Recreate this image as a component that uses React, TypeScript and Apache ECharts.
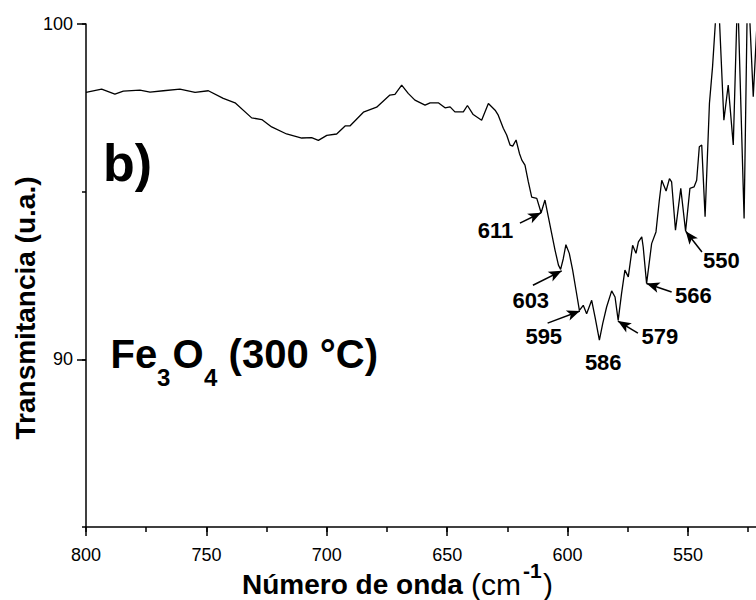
import React, { useEffect, useRef } from "react";
import * as echarts from "echarts";

// FTIR spectrum, Fe3O4 (300 °C)
const wavenumber = [
  800.0, 793.5, 788.0, 784.5, 777.6, 773.4, 767.9, 761.0, 754.7, 749.2, 743.0, 738.1, 731.2, 727.0,
  722.9, 716.7, 710.4, 706.3, 703.5, 700.0, 695.9, 692.4, 690.4, 684.8, 679.3, 673.8, 671.7, 668.9,
  666.2, 663.4, 659.2, 657.1, 653.7, 650.9, 648.8, 646.8, 643.3, 641.6, 639.2, 635.7, 632.9, 630.1,
  628.8, 626.7, 625.3, 623.9, 622.8, 621.4, 620.0, 619.0, 617.7, 616.3, 614.9, 612.8, 611.0, 609.4,
  608.0, 606.6, 605.2, 603.8, 602.9, 601.8, 600.7, 599.3, 597.9, 596.5, 595.1, 593.5, 592.1, 590.0,
  588.6, 586.8, 585.4, 583.8, 581.7, 580.3, 579.0, 577.6, 576.2, 574.8, 573.0, 571.6, 570.6, 569.2,
  568.6, 567.2, 565.1, 563.3, 561.9, 560.9, 559.1, 557.7, 556.8, 555.2, 553.0, 551.0, 549.2, 547.5,
  546.4, 545.3, 544.3, 542.9, 541.1, 539.8, 537.6, 535.1, 533.3, 531.2, 529.4, 526.7, 525.2, 522.9,
  521.0,
];
const transmittance = [
  97.96, 98.06, 97.91, 98.0, 98.03, 97.97, 98.01, 98.06, 97.96, 98.01, 97.78, 97.65, 97.2, 97.15,
  96.93, 96.72, 96.6, 96.61, 96.53, 96.68, 96.72, 96.96, 96.96, 97.37, 97.52, 97.88, 97.9, 98.18,
  97.93, 97.73, 97.58, 97.65, 97.65, 97.5, 97.53, 97.38, 97.38, 97.57, 97.3, 97.13, 97.63, 97.43,
  97.28, 96.89, 96.69, 96.39, 96.36, 96.54, 96.14, 95.94, 95.79, 95.29, 94.84, 94.8, 94.37, 94.75,
  94.25, 93.75, 93.25, 92.81, 92.68, 93.0, 93.42, 93.16, 92.66, 92.06, 91.46, 91.61, 91.36, 91.76,
  91.26, 90.57, 91.07, 91.56, 92.04, 91.86, 91.16, 91.96, 92.66, 92.46, 93.4, 93.16, 93.5, 93.65,
  93.35, 92.26, 93.45, 93.8, 94.75, 95.34, 95.02, 95.39, 95.29, 93.85, 95.1, 93.82, 95.1, 95.14,
  95.34, 96.34, 96.39, 94.25, 97.63, 98.73, 101.2, 97.13, 98.18, 96.39, 101.0, 94.2, 101.5, 97.83,
  100.5,
];

// tick labels shown
const xLabelValues = [800, 750, 700, 650, 600, 550];
const yLabelValues = [90, 100];

// peak annotations (data coordinates)
const peakLabels = ["611", "603", "595", "586", "579", "566", "550"];
const labelX = [629.9, 615.3, 609.9, 585.2, 561.7, 547.8, 536.1];
const labelY = [93.85, 91.76, 90.67, 89.92, 90.67, 91.91, 92.96];
const arrowFromX = [619.8, 614.4, 608.3, null, 570.8, 556.8, 544.2];
const arrowFromY = [94.06, 92.21, 91.08, null, 90.78, 92.01, 93.2];
const arrowToX = [611.0, 602.45, 594.9, null, 579.1, 567.2, 550.96];
const arrowToY = [94.37, 92.64, 91.44, null, 91.14, 92.26, 93.82];

const FONT = "'Liberation Sans', Arial, Helvetica, sans-serif";

export default function App() {
  const ref = useRef<HTMLDivElement>(null);
  useEffect(() => {
    document.body.style.margin = "0";
    const chart = echarts.init(ref.current!, null, { renderer: "svg" });
    const data = wavenumber.map((w, i) => [w, transmittance[i]]);
    const arrows: any[] = [];
    arrowFromX.forEach((fx, i) => {
      if (fx == null) return;
      arrows.push([
        { coord: [fx, arrowFromY[i]] },
        { coord: [arrowToX[i], arrowToY[i]] },
      ]);
    });
    const labelData = labelX.map((x, i) => [x, labelY[i]]);
    const axisColor = "#000";
    const option: any = {
      animation: false,
      grid: {
        left: 86,
        top: 24,
        bottom: 73,
        right: -52.4,
        containLabel: false,
        outerBoundsMode: "none",
      },
      xAxis: [
        {
          type: "value",
          min: 500,
          max: 800,
          interval: 50,
          inverse: true,
          position: "bottom",
          axisLine: { show: true, onZero: false, lineStyle: { color: axisColor, width: 1.5 } },
          axisTick: { show: true, length: 9, lineStyle: { color: axisColor, width: 1.5 } },
          axisLabel: {
            margin: 19,
            color: "#000",
            fontSize: 18,
            fontFamily: FONT,
            formatter: (v: number) => (xLabelValues.indexOf(v) >= 0 ? String(v) : ""),
          },
          splitLine: { show: false },
        },
        {
          type: "value",
          min: 500,
          max: 800,
          interval: 25,
          inverse: true,
          position: "bottom",
          axisLine: { show: false, onZero: false },
          axisTick: { show: true, length: 5, lineStyle: { color: axisColor, width: 1.5 } },
          axisLabel: { show: false },
          splitLine: { show: false },
        },
      ],
      yAxis: [
        {
          type: "value",
          min: 85,
          max: 100,
          interval: 5,
          position: "left",
          axisLine: { show: true, onZero: false, lineStyle: { color: axisColor, width: 1.5 } },
          axisTick: { show: true, length: 4, lineStyle: { color: axisColor, width: 1.5 } },
          axisLabel: {
            margin: 13,
            color: "#000",
            fontSize: 18,
            fontFamily: FONT,
            formatter: (v: number) => (yLabelValues.indexOf(v) >= 0 ? String(v) : ""),
          },
          splitLine: { show: false },
        },
        {
          type: "value",
          min: 85,
          max: 100,
          interval: 5,
          position: "left",
          axisLine: { show: false, onZero: false },
          axisTick: {
            show: true,
            length: 9,
            customValues: yLabelValues,
            lineStyle: { color: axisColor, width: 1.5 },
          },
          axisLabel: { show: false },
          splitLine: { show: false },
        },
      ],
      series: [
        {
          type: "line",
          xAxisIndex: 0,
          yAxisIndex: 0,
          data,
          symbol: "none",
          clip: true,
          lineStyle: { color: "#000", width: 1.3 },
          silent: true,
          markLine: {
            silent: true,
            symbol: ["none", "arrow"],
            symbolSize: [8, 13],
            label: { show: false },
            lineStyle: { color: "#000", width: 1.5, type: "solid", opacity: 1 },
            data: arrows,
          },
        },
        {
          type: "scatter",
          xAxisIndex: 0,
          yAxisIndex: 0,
          data: labelData,
          symbolSize: 0,
          itemStyle: { color: "#000", opacity: 1 },
          silent: true,
          label: {
            show: true,
            position: "inside",
            align: "center",
            verticalAlign: "middle",
            formatter: (p: any) => peakLabels[p.dataIndex],
            color: "#000",
            opacity: 1,
            textBorderWidth: 0,
            fontSize: 22,
            fontWeight: "bold",
            fontFamily: FONT,
          },
        },
      ],
      graphic: [
        {
          type: "text",
          x: 103,
          y: 163,
          style: {
            text: "b)",
            fill: "#000",
            font: `bold 52px ${FONT}`,
            textAlign: "left",
            textVerticalAlign: "middle",
          },
        },
        {
          type: "group",
          children: [
            { type: "text", x: 110.5, y: 354, style: { text: "Fe", fill: "#000", font: `bold 40px ${FONT}`, textAlign: "left", textVerticalAlign: "middle" } },
            { type: "text", x: 157, y: 377, style: { text: "3", fill: "#000", font: `bold 24px ${FONT}`, textAlign: "left", textVerticalAlign: "middle" } },
            { type: "text", x: 172.5, y: 354, style: { text: "O", fill: "#000", font: `bold 40px ${FONT}`, textAlign: "left", textVerticalAlign: "middle" } },
            { type: "text", x: 204, y: 377, style: { text: "4", fill: "#000", font: `bold 24px ${FONT}`, textAlign: "left", textVerticalAlign: "middle" } },
            { type: "text", x: 217.5, y: 354, style: { text: " (300 °C)", fill: "#000", font: `bold 40px ${FONT}`, textAlign: "left", textVerticalAlign: "middle" } },
          ],
        },
        {
          type: "text",
          x: 25,
          y: 308,
          rotation: Math.PI / 2,
          style: {
            text: "Transmitancia (u.a.)",
            fill: "#000",
            font: `bold 28px ${FONT}`,
            textAlign: "center",
            textVerticalAlign: "middle",
          },
        },
        {
          type: "group",
          children: [
            { type: "text", x: 242, y: 584, style: { text: "Número de onda ", fill: "#000", font: `bold 28px ${FONT}`, textAlign: "left", textVerticalAlign: "middle" } },
            { type: "text", x: 471, y: 584, style: { text: "(cm", fill: "#000", font: `30px ${FONT}`, textAlign: "left", textVerticalAlign: "middle" } },
            { type: "text", x: 523, y: 570, style: { text: "-1", fill: "#000", font: `bold 21px ${FONT}`, textAlign: "left", textVerticalAlign: "middle" } },
            { type: "text", x: 543, y: 584, style: { text: ")", fill: "#000", font: `30px ${FONT}`, textAlign: "left", textVerticalAlign: "middle" } },
          ],
        },
      ],
    };
    chart.setOption(option);
    return () => chart.dispose();
  }, []);
  return <div ref={ref} style={{ width: 756, height: 600 }} />;
}
